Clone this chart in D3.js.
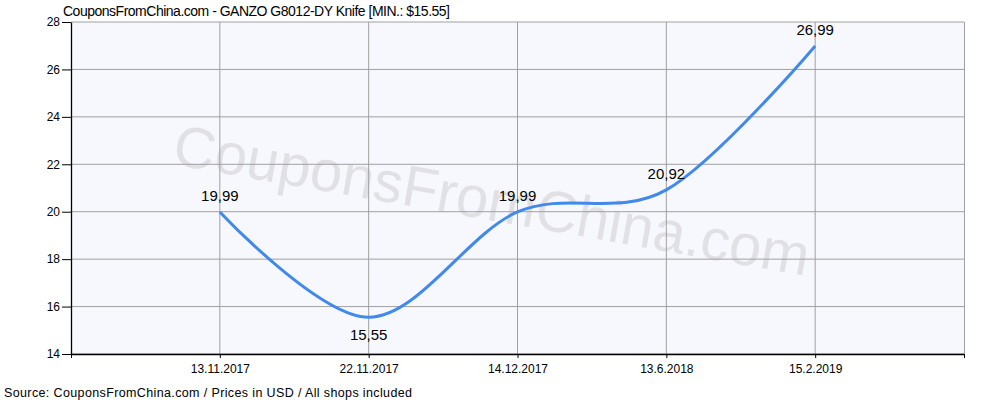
<!DOCTYPE html>
<html>
<head>
<meta charset="utf-8">
<script src="https://cdn.jsdelivr.net/npm/d3@7"></script>
<style>
  body { margin: 0; background: #fff; }
  text { font-family: "Liberation Sans", Arial, sans-serif; }
</style>
</head>
<body>
<svg id="chart" width="1000" height="400"></svg>
<script>
// chart data
const dates = ["13.11.2017", "22.11.2017", "14.12.2017", "13.6.2018", "15.2.2019"];
const prices = [19.99, 15.55, 19.99, 20.92, 26.99];
const yTicks = [14, 16, 18, 20, 22, 24, 26, 28];

const plotLeft = 71, plotRight = 964, plotTop = 22, plotBottom = 354;

const svg = d3.select("#chart");

// x: 5 categories sitting on a 0..6 slot axis
const x = d3.scaleLinear().domain([0, 6]).range([plotLeft, plotRight]);
const y = d3.scaleLinear().domain([14, 28]).range([plotBottom, plotTop]);

// plot background
svg.append("rect")
  .attr("x", plotLeft).attr("y", plotTop)
  .attr("width", plotRight - plotLeft).attr("height", plotBottom - plotTop)
  .attr("fill", "#f7f8fe");

// watermark
svg.append("text")
  .attr("transform", "translate(492,200) rotate(10)")
  .attr("text-anchor", "middle")
  .attr("dy", "0.35em")
  .style("font-size", "58px")
  .style("fill", "#dcdce0")
  .style("opacity", 0.8)
  .text("CouponsFromChina.com");

// grid
svg.append("g").selectAll("line")
  .data(yTicks)
  .enter().append("line")
  .attr("x1", plotLeft).attr("x2", plotRight)
  .attr("y1", d => y(d)).attr("y2", d => y(d))
  .attr("stroke", "#a0a0a0");

svg.append("g").selectAll("line")
  .data(dates)
  .enter().append("line")
  .attr("x1", (d, i) => x(i + 1)).attr("x2", (d, i) => x(i + 1))
  .attr("y1", plotTop).attr("y2", plotBottom)
  .attr("stroke", "#a0a0a0");

svg.append("line")
  .attr("x1", plotRight + 0.5).attr("x2", plotRight + 0.5)
  .attr("y1", plotTop).attr("y2", plotBottom)
  .attr("stroke", "#a0a0a0");

// axes
const yAxis = svg.append("g")
  .attr("transform", `translate(${plotLeft},0)`)
  .call(d3.axisLeft(y).tickValues(yTicks).tickSize(9).tickSizeOuter(0).tickPadding(2));

const xAxis = svg.append("g")
  .attr("transform", `translate(0,${plotBottom})`)
  .call(d3.axisBottom(x)
    .tickValues(d3.range(0, 7))
    .tickFormat(i => (i >= 1 && i <= 5) ? dates[i - 1] : "")
    .tickSize(4).tickSizeOuter(0).tickPadding(6));

[yAxis, xAxis].forEach(a => {
  a.selectAll("path, line").attr("stroke", "#000");
  a.selectAll("text").style("font-size", "12px").attr("fill", "#000");
  a.select(".domain").attr("stroke-width", 1.3);
});

// price line
const line = d3.line()
  .x((d, i) => x(i + 1))
  .y(d => y(d))
  .curve(d3.curveCardinal.tension(0));

svg.append("path")
  .datum(prices)
  .attr("d", line)
  .attr("fill", "none")
  .attr("stroke", "#4189ea")
  .attr("stroke-width", 3);

// value labels
svg.append("g").selectAll("text")
  .data(prices)
  .enter().append("text")
  .attr("x", (d, i) => x(i + 1))
  .attr("y", (d, i) => i === 1 ? y(d) + 23 : y(d) - 11)
  .attr("text-anchor", "middle")
  .style("font-size", "15px")
  .text(d => d.toFixed(2).replace(".", ","));

// title and footer
svg.append("text")
  .attr("x", 63).attr("y", 16)
  .style("font-size", "14px")
  .attr("textLength", 387)
  .text("CouponsFromChina.com - GANZO G8012-DY Knife [MIN.: $15.55]");

svg.append("text")
  .attr("x", 4).attr("y", 397)
  .style("font-size", "12.5px")
  .attr("textLength", 408)
  .text("Source: CouponsFromChina.com / Prices in USD / All shops included");
</script>
</body>
</html>
